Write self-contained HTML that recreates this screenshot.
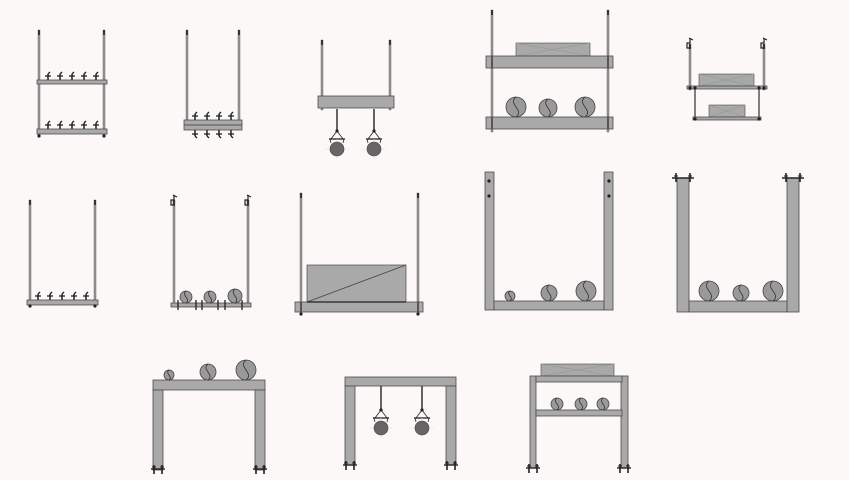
<!DOCTYPE html>
<html><head><meta charset="utf-8"><style>
html,body{margin:0;padding:0;background:#fcf8f7;}
svg{display:block}
</style></head><body>
<svg id="s" width="849" height="480" viewBox="0 0 849 480" xmlns="http://www.w3.org/2000/svg"></svg>
<script>
var o='';
var G='#a9a9a9',K='#4a4a4a';
function r(x,y,w,h,f,sw){o+='<rect x="'+x+'" y="'+y+'" width="'+w+'" height="'+h+'" fill="'+(f||G)+'" stroke="'+K+'" stroke-width="'+(sw||0.8)+'"/>';}
function l(x1,y1,x2,y2,c,w){o+='<line x1="'+x1+'" y1="'+y1+'" x2="'+x2+'" y2="'+y2+'" stroke="'+(c||K)+'" stroke-width="'+(w||1)+'"/>';}
function rod(x,y1,y2){o+='<rect x="'+(x-1)+'" y="'+y1+'" width="2" height="'+(y2-y1)+'" fill="#999" stroke="#555" stroke-width="0.4"/>';l(x,y1,x,y1+5,'#222',1.6);}
function dot(x,y,rr){o+='<circle cx="'+x+'" cy="'+y+'" r="'+(rr||1.6)+'" fill="#222"/>';}
function valve(x,y,down){var d=down?1:-1;l(x,y,x,y+d*6,'#222',1.5);l(x-3,y+d*4,x+3,y+d*4,'#222',1.3);l(x,y+d*6,x+2,y+d*8,'#222',1.3);}
function ball(x,yb,rr){var cy=yb-rr;o+='<circle cx="'+x+'" cy="'+cy+'" r="'+rr+'" fill="#999" stroke="#444" stroke-width="0.8"/>';
 o+='<path d="M'+x+' '+(cy-rr)+' C'+(x-rr*0.9)+' '+(cy-rr*0.3)+' '+(x+rr*0.9)+' '+(cy+rr*0.3)+' '+x+' '+(cy+rr)+'" fill="none" stroke="#333" stroke-width="0.8"/>';}
function box(x,y,w,h){r(x,y,w,h,'#a9a9a9',0.6);l(x,y,x+w,y+h,'#8a9a8a',0.5);l(x,y+h,x+w,y,'#8a9a8a',0.5);}
function hook(x,y){o+='<path d="M'+(x+1)+' '+y+' l0 5 l-3 0 l0 5 l4 0" fill="none" stroke="#222" stroke-width="1.2"/>';l(x,y,x+4,y+2,'#222',1.2);}
function hanger(x,y1,y2){l(x,y1,x,y2,'#333',1.5);dot(x,y2,1.6);o+='<path d="M'+(x-6)+' '+(y2+8)+' L'+x+' '+y2+' L'+(x+6)+' '+(y2+8)+'" fill="none" stroke="#222" stroke-width="0.8"/>';
 l(x-8,y2+8,x+8,y2+8,'#222',1.3);l(x-7,y2+8,x-6,y2+12,'#222',0.8);l(x+7,y2+8,x+6,y2+12,'#222',0.8);
 l(x-12,y2+18,x+12,y2+18,'#ddd',0.6);l(x,y2+8,x,y2+28,'#ddd',0.6);
 o+='<circle cx="'+x+'" cy="'+(y2+18)+'" r="7" fill="#666" stroke="#444" stroke-width="0.6"/>';}
function foot(x,y){l(x-7,y,x+7,y,'#222',1.4);[x-4,x+4].forEach(function(a){l(a,y-4,a,y+5,'#222',1.6);l(a-2,y-2,a+2,y-2,'#222',1);});}
function flange(x,y){l(x-11,y,x+11,y,'#222',1.4);[x-7,x+7].forEach(function(a){l(a,y-5,a,y+4,'#222',1.6);l(a-2,y-2,a+2,y-2,'#222',1);});}

// Fig1
rod(39,30,135);rod(104,30,135);
r(37,80,70,4);r(37,129,70,5);
[48,60,72,84,96].forEach(function(x){valve(x,80);valve(x,129);});
dot(39,136);dot(104,136);
// Fig2
rod(187,30,125);rod(239,30,125);
r(184,120,58,10);l(184,125,242,125,'#555',1);
[195,207,219,231].forEach(function(x){valve(x,120);valve(x,130,true);});
// Fig3
rod(322,40,110);rod(390,40,110);
r(318,96,76,12);
hanger(337,109,131);hanger(374,109,131);
// Fig4
rod(492,10,132);rod(608,10,132);
box(516,43,74,13);
r(486,56,127,12);r(486,117,127,12);
ball(516,117,10);ball(548,117,9);ball(585,117,10);
l(492,56,492,68,'#555',2);l(608,56,608,68,'#555',2);l(492,117,492,129,'#555',2);l(608,117,608,129,'#555',2);
// Fig5
rod(690,44,90);rod(764,44,90);hook(689,38);hook(763,38);
box(699,74,55,12);
r(687,86,80,3);
l(695,89,695,119,'#555',1.5);l(759,89,759,119,'#555',1.5);
box(709,105,36,12);
r(693,117,68,3);
dot(690,88);dot(764,88);dot(695,88);dot(759,88);dot(695,119);dot(759,119);
// Fig6
rod(30,200,305);rod(95,200,305);
r(27,300,71,5);
[38,50,62,74,86].forEach(function(x){valve(x,300);});
dot(30,306);dot(95,306);
// Fig7
rod(174,200,305);rod(248,200,305);hook(173,195);hook(247,195);
r(171,303,80,4);
ball(186,303,6);ball(210,303,6);ball(235,303,7);
[178,196,202,218,225,242].forEach(function(x){l(x,300,x,310,'#222',1.3);});
// Fig8
rod(301,193,312);rod(418,193,312);
r(307,265,99,37,'#a9a9a9',0.7);l(307,302,406,265,'#444',0.8);
r(295,302,128,10);
l(307,302,406,302,'#222',1.2);
l(301,302,301,312,'#555',2);l(418,302,418,312,'#555',2);
dot(301,314);dot(418,314);
// Fig9
r(485,172,9,138);r(604,172,9,138);
r(494,301,110,9);
dot(489,181);dot(489,196);dot(609,181);dot(609,196);
ball(510,301,5);ball(549,301,8);ball(586,301,10);
// Fig10
r(677,178,12,134);r(787,178,12,134);
r(689,301,98,11);
flange(683,178);flange(793,178);
ball(709,301,10);ball(741,301,8);ball(773,301,10);
// Fig11
r(153,380,112,10);r(153,390,10,80);r(255,390,10,80);
ball(169,380,5);ball(208,380,8);ball(246,380,10);
foot(158,469);foot(260,469);
// Fig12
r(345,377,111,9);r(345,386,10,79);r(446,386,10,79);
hanger(381,386,410);hanger(422,386,410);
foot(350,465);foot(451,465);
// Fig13
box(541,364,73,12);
r(530,376,6,92);r(621,376,7,92);
r(536,376,86,6);r(536,410,86,6);
ball(557,410,6);ball(581,410,6);ball(603,410,6);
foot(533,468);foot(624,468);
document.getElementById('s').innerHTML=o;
</script>
</body></html>
